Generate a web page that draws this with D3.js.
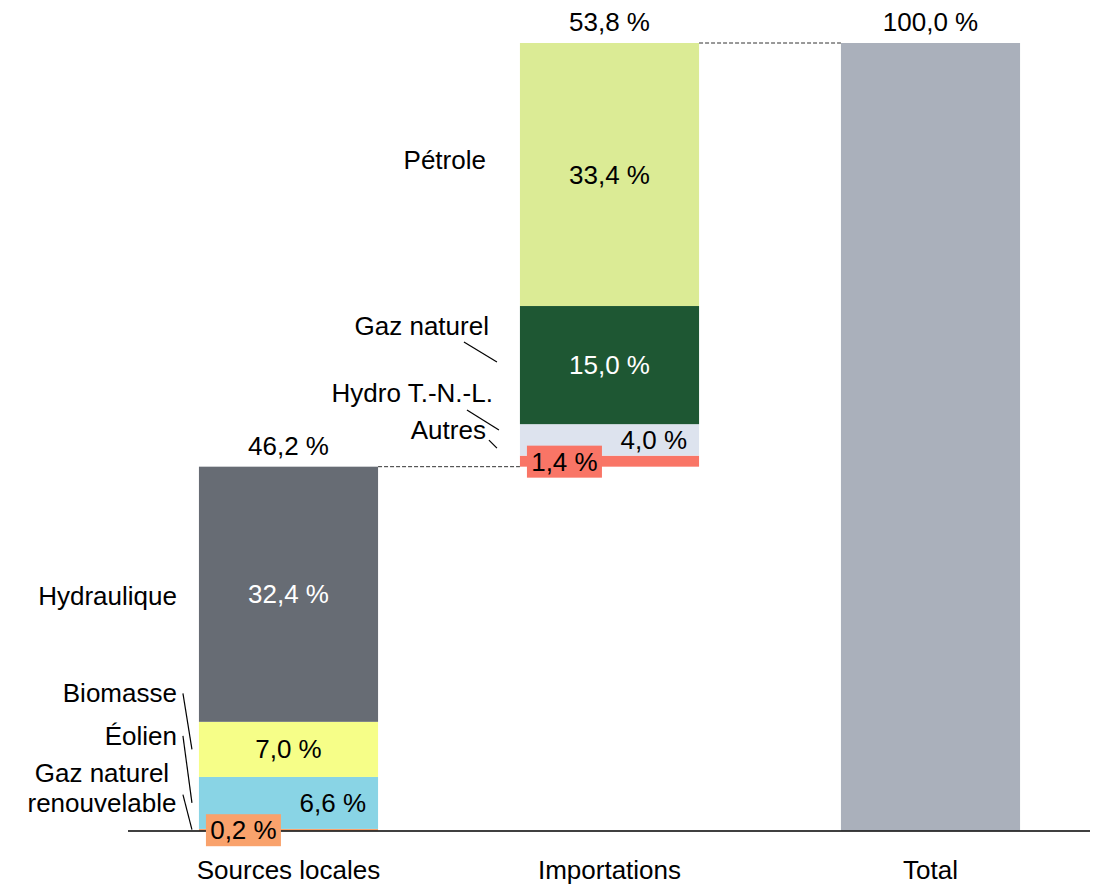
<!DOCTYPE html>
<html lang="fr">
<head>
<meta charset="utf-8">
<script src="https://cdn.jsdelivr.net/npm/d3@7"></script>
<style>
  html, body { margin: 0; padding: 0; background: #fff; }
  svg { display: block; font-family: "Liberation Sans", Arial, sans-serif; }
</style>
</head>
<body>
<svg id="chart" width="1099" height="885"></svg>
<script>
// Bilan énergétique : sources locales + importations = total (%)
const categories = ["Sources locales", "Importations", "Total"];

const localSources = ["Gaz naturel renouvelable", "Éolien", "Biomasse", "Hydraulique"];
const localValues = [0.2, 6.6, 7.0, 32.4];

const importSources = ["Autres", "Hydro T.-N.-L.", "Gaz naturel", "Pétrole"];
const importValues = [1.4, 4.0, 15.0, 33.4];

const totalValue = 100.0;

// Apparence de chaque source
const sourceStyle = {
  "Gaz naturel renouvelable": { fill: "#f9a26c", text: "#000", label: "box" },
  "Éolien":                   { fill: "#89d4e5", text: "#000", label: "end" },
  "Biomasse":                 { fill: "#f6fe88", text: "#000", label: "middle" },
  "Hydraulique":              { fill: "#676c74", text: "#fff", label: "middle" },
  "Autres":                   { fill: "#f97566", text: "#000", label: "box" },
  "Hydro T.-N.-L.":           { fill: "#dde3ee", text: "#000", label: "end" },
  "Gaz naturel":              { fill: "#1e5733", text: "#fff", label: "middle" },
  "Pétrole":                  { fill: "#dbeb95", text: "#000", label: "middle" }
};
const totalFill = "#aab0bb";

// Étiquettes des sources (à gauche des barres) : décalages en pixels
// par rapport au bord gauche de la barre et au milieu du segment
const sourceLabels = {
  "Hydraulique":    { lines: ["Hydraulique"], anchor: "end", dx: -22, dy: 2 },
  "Biomasse":       { lines: ["Biomasse"], anchor: "end", dx: -22, dy: -56, leader: [[-16, -56], [-7, 0]] },
  "Éolien":         { lines: ["Éolien"], anchor: "end", dx: -22, dy: -67, leader: [[-16, -67], [-7, 0]] },
  "Gaz naturel renouvelable": { lines: ["Gaz naturel", "renouvelable"], anchor: "middle", dx: -97, dy: -57, leader: [[-16, -35], [-7, 0]] },
  "Pétrole":        { lines: ["Pétrole"], anchor: "end", dx: -34, dy: -15 },
  "Gaz naturel":    { lines: ["Gaz naturel"], anchor: "end", dx: -31, dy: -39, leader: [[-56, -23], [-23, -3]] },
  "Hydro T.-N.-L.": { lines: ["Hydro T.-N.-L."], anchor: "end", dx: -27, dy: -47, leader: [[-53, -30], [-21, -10]] },
  "Autres":         { lines: ["Autres"], anchor: "end", dx: -34, dy: -31, leader: [[-31, -21], [-23, -13]] }
};

const width = 1099, height = 885;
const fontSize = 26;
const svg = d3.select("#chart");

const locale = d3.formatLocale({ decimal: ",", thousands: " ", grouping: [3], currency: ["", " $"] });
const fmt = v => locale.format(".1f")(v) + " %";

const x = d3.scaleBand().domain(categories).range([128, 1091]).paddingInner(0.442).paddingOuter(0.221);
const y = d3.scaleLinear().domain([0, 100]).range([830.5, 43]);

// Empilement des segments
function stackSegments(names, values, start) {
  let acc = start;
  return names.map((n, i) => {
    const s = { name: n, value: values[i], y0: acc, y1: acc + values[i] };
    acc += values[i];
    return s;
  });
}
const localSum = d3.sum(localValues);
const importSum = d3.sum(importValues);
const groups = [
  { cat: categories[0], segs: stackSegments(localSources, localValues, 0), top: localSum },
  { cat: categories[1], segs: stackSegments(importSources, importValues, localSum), top: localSum + importSum }
];

// Barres empilées
groups.forEach(g => {
  const gx = x(g.cat), bw = x.bandwidth();
  svg.append("g").selectAll("rect").data(g.segs).join("rect")
    .attr("x", gx).attr("width", bw)
    .attr("y", d => y(d.y1)).attr("height", d => y(d.y0) - y(d.y1))
    .attr("fill", d => sourceStyle[d.name].fill);
});

// Barre du total
svg.append("rect")
  .attr("x", x(categories[2])).attr("width", x.bandwidth())
  .attr("y", y(totalValue)).attr("height", y(0) - y(totalValue))
  .attr("fill", totalFill);

// Lignes pointillées de liaison
svg.append("line")
  .attr("x1", x(categories[0]) + x.bandwidth()).attr("x2", x(categories[1]))
  .attr("y1", y(localSum)).attr("y2", y(localSum))
  .attr("stroke", "#333").attr("stroke-width", 1).attr("stroke-dasharray", "4,2");
svg.append("line")
  .attr("x1", x(categories[1]) + x.bandwidth()).attr("x2", x(categories[2]))
  .attr("y1", y(localSum + importSum)).attr("y2", y(localSum + importSum))
  .attr("stroke", "#333").attr("stroke-width", 1).attr("stroke-dasharray", "4,2");

// Axe horizontal
svg.append("line")
  .attr("x1", 128).attr("x2", 1090).attr("y1", y(0) + 0.5).attr("y2", y(0) + 0.5)
  .attr("stroke", "#000").attr("stroke-width", 1.6);

// Étiquettes des catégories
svg.append("g").selectAll("text").data(categories).join("text")
  .attr("x", d => x(d) + x.bandwidth() / 2).attr("y", 879)
  .attr("text-anchor", "middle").attr("font-size", fontSize).attr("fill", "#000")
  .text(d => d);

// Valeurs au-dessus des barres
const tops = [
  { cat: categories[0], v: localSum, base: localSum },
  { cat: categories[1], v: importSum, base: localSum + importSum },
  { cat: categories[2], v: totalValue, base: totalValue }
];
svg.append("g").selectAll("text").data(tops).join("text")
  .attr("x", d => x(d.cat) + x.bandwidth() / 2).attr("y", d => y(d.base) - 12)
  .attr("text-anchor", "middle").attr("font-size", fontSize).attr("fill", "#000")
  .text(d => fmt(d.v));

// Valeurs des segments
groups.forEach(g => {
  const gx = x(g.cat), bw = x.bandwidth();
  g.segs.forEach(s => {
    const st = sourceStyle[s.name];
    const cy = (y(s.y0) + y(s.y1)) / 2;
    if (st.label === "box") {
      const bx = gx + 7, boxW = 75, boxH = 32;
      svg.append("rect").attr("x", bx).attr("y", cy - boxH / 2 + 0.5)
        .attr("width", boxW).attr("height", boxH).attr("fill", st.fill);
      svg.append("text").attr("x", bx + boxW / 2).attr("y", cy + 9.5)
        .attr("text-anchor", "middle").attr("font-size", fontSize).attr("fill", st.text)
        .text(fmt(s.value));
    } else {
      const tx = st.label === "end" ? gx + bw - 12 : gx + bw / 2;
      svg.append("text").attr("x", tx).attr("y", cy + 9)
        .attr("text-anchor", st.label).attr("font-size", fontSize).attr("fill", st.text)
        .text(fmt(s.value));
    }
  });
});

// Noms des sources et traits de rappel
groups.forEach(g => {
  const gx = x(g.cat);
  g.segs.forEach(s => {
    const lab = sourceLabels[s.name];
    const cy = (y(s.y0) + y(s.y1)) / 2;
    const t = svg.append("text")
      .attr("text-anchor", lab.anchor).attr("font-size", fontSize).attr("fill", "#000");
    lab.lines.forEach((ln, i) => {
      t.append("tspan").attr("x", gx + lab.dx).attr("y", cy + lab.dy + 9 + i * 30).text(ln);
    });
    if (lab.leader) {
      svg.append("line")
        .attr("x1", gx + lab.leader[0][0]).attr("y1", cy + lab.leader[0][1])
        .attr("x2", gx + lab.leader[1][0]).attr("y2", cy + lab.leader[1][1])
        .attr("stroke", "#000").attr("stroke-width", 1.2);
    }
  });
});
</script>
</body>
</html>
